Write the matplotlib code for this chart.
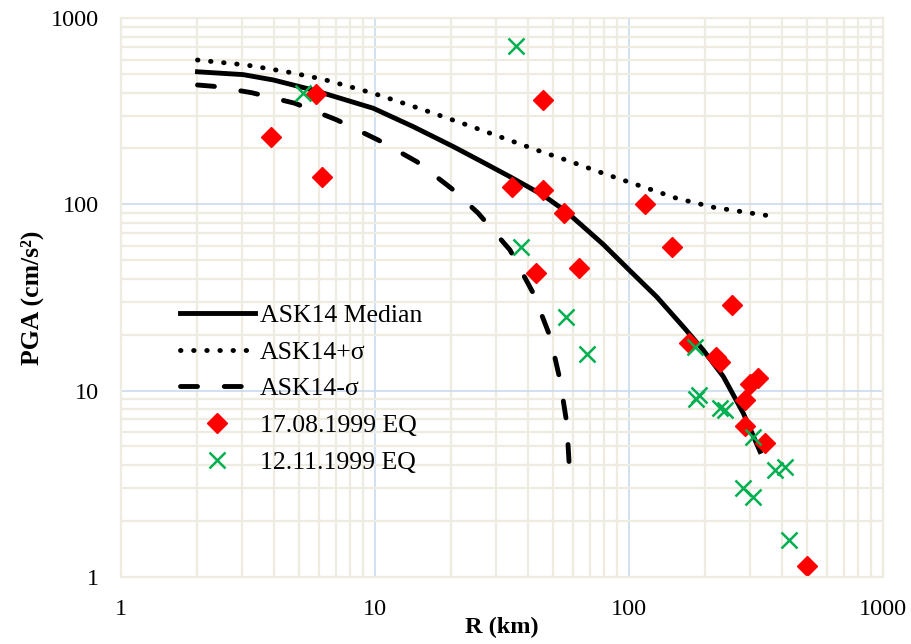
import numpy as np
import matplotlib.pyplot as plt
from matplotlib.ticker import FixedLocator, NullFormatter

# ASK14 curves, points (R in km, PGA in cm/s2)
r_med = [2, 3.03, 3.98, 5.72, 9.85, 14.15, 20.3, 25.9, 34, 46, 56.9, 79.2,
         100.9, 128.5, 163.6, 196, 235, 282, 328]
pga_med = [517, 499, 467, 412, 329, 262, 205, 172, 141, 112, 91, 61,
           44, 31.9, 22, 16.5, 11.9, 7.54, 4.7]

r_plus = [2, 3.12, 4.49, 6.26, 9.85, 15.3, 23.7, 45.3, 56.9, 79.2, 110.5,
          154, 215, 338, 387]
pga_plus = [598, 562, 517, 471, 396, 325, 264, 192, 173, 147, 126,
            108, 96.6, 87.8, 86]

r_minus = [2, 2.31, 3.27, 4.84, 7.07, 10.3, 14.6, 20.0, 25.5, 34, 42, 48.9,
           53.5, 56.9, 58.2, 58.6]
pga_minus = [439, 432, 399, 350, 285, 222, 170, 122, 89.7, 56.9, 33.3, 19.5,
             11.4, 6.66, 3.9, 3.33]

# recorded PGA
r_eq1 = [3.9, 5.86, 6.19, 34.6, 45.9, 45.9, 43, 55.6, 116, 148, 63.4, 254, 173,
         220, 228, 299, 322, 286, 286, 343, 500]
pga_eq1 = [231, 393, 140, 124, 365, 120, 42.8, 89.7, 100.6, 59.3, 45.7, 28.7, 18.1,
           15.2, 14.3, 10.8, 11.7, 8.9, 6.45, 5.24, 1.14]

r_eq2 = [35.8, 5.22, 37.5, 56.5, 68.1, 182, 183, 188, 228, 238, 308, 376, 411, 282, 308, 428]
pga_eq2 = [714, 396, 58.9, 24.9, 15.8, 17.2, 9.0, 9.5, 8.1, 7.9, 5.65, 3.74, 3.9, 2.98, 2.69, 1.57]

plt.rcParams['font.family'] = ['Liberation Serif', 'DejaVu Serif']

fig = plt.figure(figsize=(9.12, 6.44), dpi=100)
ax = fig.add_axes([0.1327, 0.1048, 0.8355, 0.8665])
ax.set_xscale('log')
ax.set_yscale('log')
ax.set_xlim(1, 1000)
ax.set_ylim(1, 1000)

beige = '#EEEBE0'
blue = '#C9DAF0'
# grid: minor beige, major light blue
minor = [m * 10 ** d for d in range(3) for m in range(2, 10)]
ax.xaxis.set_minor_locator(FixedLocator(minor))
ax.yaxis.set_minor_locator(FixedLocator(minor))
ax.xaxis.set_minor_formatter(NullFormatter())
ax.yaxis.set_minor_formatter(NullFormatter())
ax.set_xticks([1, 10, 100, 1000])
ax.set_yticks([1, 10, 100, 1000])
ax.set_xticklabels(['1', '10', '100', '1000'])
ax.set_yticklabels(['1', '10', '100', '1000'])
ax.grid(True, which='minor', color=beige, lw=1.6)
ax.grid(True, which='major', color=blue, lw=1.2)
ax.set_axisbelow(True)
for s in ax.spines.values():
    s.set_color(beige)
    s.set_linewidth(1.6)
ax.tick_params(which='both', length=0, labelsize=17.5)
ax.tick_params(axis='x', pad=16)
ax.tick_params(axis='y', pad=16)

ax.plot(r_med, pga_med, color='black', lw=3.5, label='ASK14 Median')
ax.plot(r_plus, pga_plus, color='black', lw=3.5, ls=(0, (0.1, 2.6)),
        dash_capstyle='round', label='ASK14+σ')
ax.plot(r_minus, pga_minus, color='black', lw=3.5, ls=(0, (3.5, 5.5)),
        dash_capstyle='round', label='ASK14-σ')
ax.plot(r_eq1, pga_eq1, ls='none', marker='D', ms=10, color='#FF0000',
        label='17.08.1999 EQ')
ax.plot(r_eq2, pga_eq2, ls='none', marker='x', ms=12, mew=1.8, color='#00B050',
        label='12.11.1999 EQ')

ax.set_xlabel('R (km)', fontsize=17.5, fontweight='bold', labelpad=-2)
ax.set_ylabel('PGA (cm/s²)', fontsize=18.5, fontweight='bold', labelpad=5)

leg = ax.legend(loc='upper left', bbox_to_anchor=(0.0774, 0.488), frameon=False,
                fontsize=18.5, handlelength=2.9, handletextpad=0.2,
                labelspacing=0.53, borderaxespad=0, borderpad=0)

fig.savefig('out.png', dpi=100)
